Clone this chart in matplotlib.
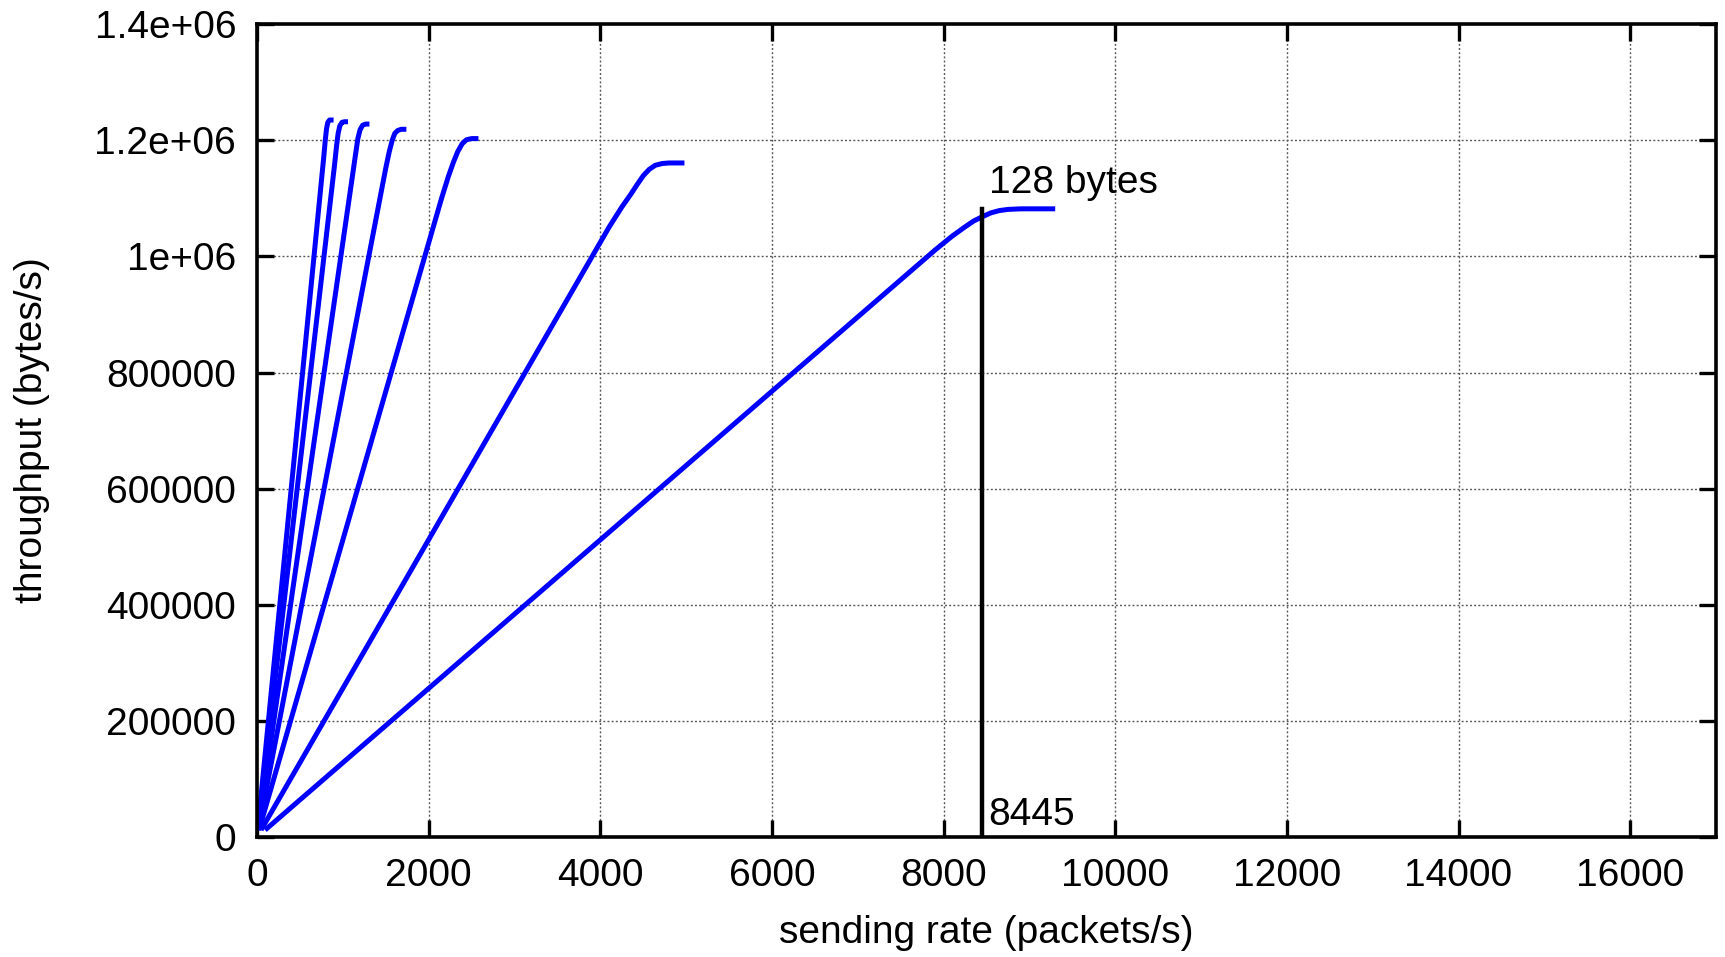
import matplotlib
matplotlib.use("Agg")
import matplotlib.pyplot as plt

plt.rcParams['font.family'] = ['Liberation Sans', 'DejaVu Sans']

# hand-read points (sending rate, throughput) per packet size
r128 = [94, 7900, 8100, 8250, 8350, 8445, 8550, 8650, 8750, 8900, 9300]
t128 = [12000, 1.011e6, 1.035e6, 1.051e6, 1.061e6, 1.068e6, 1.075e6, 1.079e6, 1.081e6, 1.082e6, 1.082e6]
r256 = [47, 4100, 4250, 4350, 4430, 4500, 4570, 4640, 4720, 4800, 4980]
t256 = [12000, 1.050e6, 1.085e6, 1.106e6, 1.124e6, 1.139e6, 1.150e6, 1.157e6, 1.160e6, 1.161e6, 1.161e6]
r512 = [23, 2150, 2230, 2290, 2340, 2390, 2440, 2500, 2580]
t512 = [12000, 1.100e6, 1.138e6, 1.163e6, 1.181e6, 1.194e6, 1.201e6, 1.203e6, 1.203e6]
r768 = [16, 1500, 1540, 1575, 1605, 1640, 1680, 1740]
t768 = [12000, 1.152e6, 1.180e6, 1.200e6, 1.212e6, 1.217e6, 1.219e6, 1.219e6]
r1024 = [12, 1120, 1150, 1175, 1200, 1230, 1265, 1310]
t1024 = [12000, 1.147e6, 1.178e6, 1.203e6, 1.218e6, 1.226e6, 1.228e6, 1.228e6]
r1280 = [9, 905, 925, 945, 965, 990, 1020, 1060]
t1280 = [12000, 1.160e6, 1.188e6, 1.212e6, 1.225e6, 1.231e6, 1.232e6, 1.232e6]
r1500 = [8, 780, 795, 810, 825, 845, 892]
t1500 = [12000, 1.175e6, 1.200e6, 1.220e6, 1.231e6, 1.235e6, 1.235e6]

series = [(r128, t128), (r256, t256), (r512, t512), (r768, t768),
          (r1024, t1024), (r1280, t1280), (r1500, t1500)]

marker_x = 8445
marker_top = 1.082e6
x_ticks = list(range(0, 16001, 2000))
y_ticks = [0, 200000, 400000, 600000, 800000, 1000000, 1200000, 1400000]
y_tick_labels = ["0", "200000", "400000", "600000", "800000", "1e+06", "1.2e+06", "1.4e+06"]

FS = 28

fig = plt.figure(figsize=(17.25, 9.57), dpi=100)
ax = fig.add_axes([0.149, 0.1254, 0.9948 - 0.149, 0.9747 - 0.1254])

for r, t in series:
    ax.plot(r, t, color=(0, 0, 1), lw=3.6, solid_joinstyle='round', solid_capstyle='butt')

ax.plot([marker_x, marker_x], [0, marker_top], color='black', lw=3.2)
ax.text(marker_x + 80, 20700, "8445", fontsize=FS, ha='left', va='baseline')
ax.text(marker_x + 80, 1.110e6, "128 bytes", fontsize=FS, ha='left', va='baseline')

ax.set_xlim(0, 17000)
ax.set_ylim(0, 1.4e6)
ax.set_xticks(x_ticks)
ax.set_xticklabels([str(v) for v in x_ticks])
ax.set_yticks(y_ticks)
ax.set_yticklabels(y_tick_labels)
ax.tick_params(direction='in', length=12, width=2.4, labelsize=FS,
               top=True, right=True, pad=15)
ax.grid(True, linestyle=(0, (1.4, 1.6)), color='#555555', lw=1.0)
ax.set_axisbelow(True)
for s in ax.spines.values():
    s.set_linewidth(2.6)

ax.set_xlabel("sending rate (packets/s)", fontsize=FS, labelpad=15)
ax.set_ylabel("throughput (bytes/s)", fontsize=FS, labelpad=32)

fig.savefig("out.png", dpi=100)
